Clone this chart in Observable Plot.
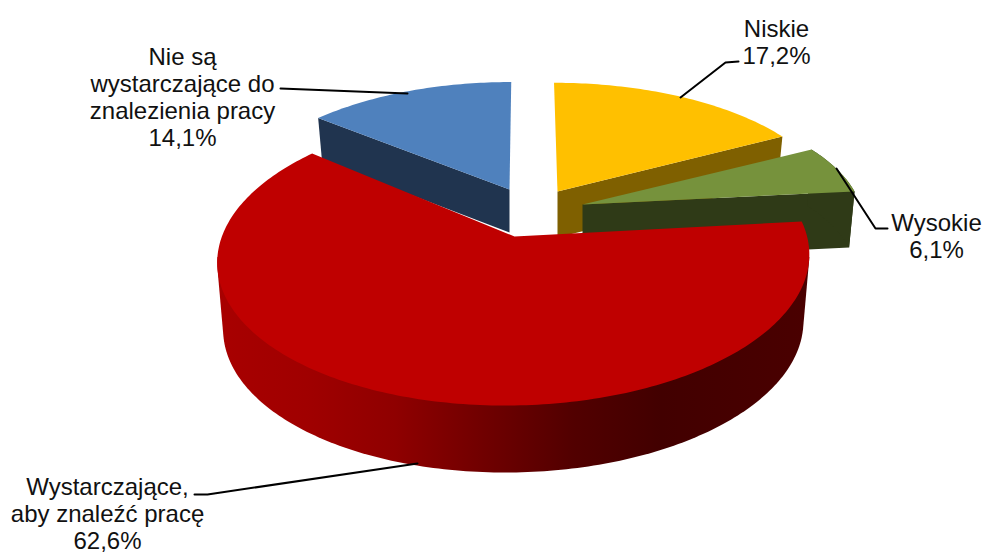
<!DOCTYPE html>
<html><head><meta charset="utf-8">
<script src="https://cdn.jsdelivr.net/npm/d3@7"></script>
<script src="https://cdn.jsdelivr.net/npm/@observablehq/plot@0.6"></script>
<style>html,body{margin:0;padding:0;background:#fff;overflow:hidden}svg{display:block}</style>
</head><body><div id="chart"></div>
<script>
// Data (clockwise from 12 o'clock)
const names = ["Niskie", "Wysokie", "Wystarczające,\naby znaleźć pracę", "Nie są\nwystarczające do\nznalezienia pracy"];
const shares = [17.2, 6.1, 62.6, 14.1];

// Styling and 3D geometry, per slice
const topColors = ["#ffc000", "#76923c", "#bf0000", "#4f81bd"];
const sideColors = ["#7f6000", "#2f3a17", "url(#redSide)", "#20344f"];
const apexX = [557, 582, 514, 509];
const apexY = [191, 204, 236, 189];
const scaleX = [0.94, 0.95, 1, 0.93];
const scaleY = [0.87, 0.87, 1, 0.86];
const lean = [-4, 0, 8, 2]; // sideways drift of the far edge, from the perspective
const depth = [46, 56, 67, 43];
const R = 292.6, Ry = 143.7, persp = 0.15, baseShrink = 0.98;
const frontRim = [98, 262]; // degrees of the rim of the big slice that face the viewer

// Label placement
const labelX = [776, 936, 107, 182];
const labelY = [41, 235.5, 512.5, 96];
const leaders = [
  [[738, 61], [725, 62], [680, 97]],
  [[887, 228], [875, 228], [836, 168]],
  [[194, 494], [207, 494], [417, 463]],
  [[280, 88], [407, 93]]
];

const arcs = d3.pie().sort(null)(shares);

function project(i, angle, bottom) {
  const u = Math.sin(angle), v = Math.cos(angle), w = 1 + persp * v;
  const k = bottom ? baseShrink : 1;
  return {
    x: apexX[i] + scaleX[i] * k * R * u / w + lean[i] * v / w,
    y: apexY[i] + (bottom ? depth[i] : 0) - scaleY[i] * Ry * v / w
  };
}
function arcPts(i, a0, a1, bottom) {
  const n = Math.max(2, Math.ceil(Math.abs(a1 - a0) * 60));
  return d3.range(n + 1).map(j => project(i, a0 + (a1 - a0) * j / n, bottom));
}
const apex = (i, bottom) => ({x: apexX[i], y: apexY[i] + (bottom ? depth[i] : 0)});
const poly = (pts, fill) => Plot.line(pts, {x: "x", y: "y", fill, stroke: "none"});

function hullOfRim(i) {
  const a0 = frontRim[0] * Math.PI / 180, a1 = frontRim[1] * Math.PI / 180;
  const pts = [...arcPts(i, a0, a1, false), ...arcPts(i, a0, a1, true)];
  return d3.polygonHull(pts.map(p => [p.x, p.y])).map(([x, y]) => ({x, y}));
}

function sliceMarks(i) {
  const {startAngle: a0, endAngle: a1} = arcs[i];
  const top = [apex(i, false), ...arcPts(i, a0, a1, false)];
  const marks = [];
  // the visible straight cut wall of each exploded slice
  if (i === 0 || i === 1) marks.push(poly([apex(i,false), project(i,a1,false), project(i,a1,true), apex(i,true)], sideColors[i]));
  if (i === 3) marks.push(poly([apex(i,false), project(i,a0,false), project(i,a0,true), apex(i,true)], sideColors[i]));
  if (i === 1) marks.push(poly([...arcPts(i, a0, a1, false), ...arcPts(i, a1, a0, true)], sideColors[i]));
  if (i === 2) marks.push(poly(hullOfRim(i), sideColors[i]));
  marks.push(poly(top, topColors[i]));
  return marks;
}

const redStops = [[0, "#a80000"], [0.15, "#a00000"], [0.3, "#8f0000"], [0.45, "#700000"], [0.6, "#520000"], [0.75, "#420000"], [1, "#4a0000"]];
const gradient = () => {
  const defs = d3.create("svg:defs");
  const g = defs.append("linearGradient").attr("id", "redSide");
  redStops.forEach(([o, c]) => g.append("stop").attr("offset", o).attr("stop-color", c));
  return defs.node();
};

const labels = names.map((n, i) => ({
  text: `${n}\n${shares[i].toFixed(1).replace(".", ",")}%`, x: labelX[i], y: labelY[i]
}));

const plot = Plot.plot({
  width: 984, height: 552, margin: 0,
  style: {background: "#fff"},
  x: {domain: [0, 984], range: [0, 984], axis: null},
  y: {domain: [0, 552], range: [0, 552], axis: null},
  marks: [
    gradient,
    ...[3, 0, 1, 2].flatMap(sliceMarks),
    ...leaders.map(l => Plot.line(l.map(([x, y]) => ({x, y})), {x: "x", y: "y", stroke: "#000", strokeWidth: 2})),
    Plot.text(labels, {x: "x", y: "y", text: "text", fontSize: 24, lineHeight: 1.13, fill: "#111", textAnchor: "middle", fontFamily: "Liberation Sans, Arial, sans-serif"})
  ]
});
document.getElementById("chart").append(plot);
</script></body></html>
